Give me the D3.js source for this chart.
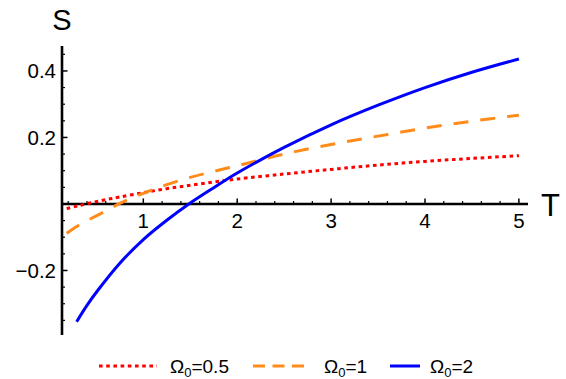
<!DOCTYPE html>
<html>
<head>
<meta charset="utf-8">
<script src="https://cdn.jsdelivr.net/npm/d3@7"></script>
<style>
  html, body { margin: 0; padding: 0; background: #fff; }
  svg { display: block; font-family: "Liberation Sans", Arial, sans-serif; }
</style>
</head>
<body>
<div id="chart"></div>
<script>
'use strict';

// ─── Data ──────────────────────────────────────────────────────────────────
const seriesNames = ['0.5', '1', '2'];
const seriesColors = ['#ff0000', '#ff8c1a', '#0000ff'];

const tRed    = [0.184, 0.3, 0.45, 0.6, 0.75, 1.0, 1.25, 1.5, 1.75, 2.0, 2.5, 3.0, 3.5, 4.0, 4.5, 5.0];
const sRed    = [-0.014, -0.006, 0.004, 0.013, 0.021, 0.034, 0.046, 0.056, 0.066, 0.075, 0.090, 0.104, 0.117, 0.128, 0.137, 0.145];

const tOrange = [0.184, 0.3, 0.45, 0.6, 0.75, 1.0, 1.25, 1.5, 1.75, 2.0, 2.5, 3.0, 3.5, 4.0, 4.5, 5.0];
const sOrange = [-0.088, -0.066, -0.043, -0.021, 0.002, 0.032, 0.058, 0.080, 0.098, 0.115, 0.150, 0.179, 0.204, 0.228, 0.249, 0.267];

const tBlue   = [0.29, 0.4, 0.52, 0.75, 1.0, 1.25, 1.5, 1.75, 2.0, 2.5, 3.0, 3.5, 4.0, 4.5, 5.0];
const sBlue   = [-0.354, -0.305, -0.258, -0.178, -0.107, -0.049, 0.003, 0.049, 0.093, 0.170, 0.238, 0.297, 0.350, 0.396, 0.436];

const xMajor = [1, 2, 3, 4, 5];
const yMajor = [-0.2, 0.2, 0.4];
const yMajorTicks = [-0.2, 0, 0.2, 0.4];

// ─── Layout ────────────────────────────────────────────────────────────────
const W = 566, H = 379;

const svg = d3.select('#chart').append('svg')
    .attr('width', W)
    .attr('height', H);

const x = d3.scaleLinear().domain([0.134, 5.097]).range([62, 528]);
const y = d3.scaleLinear().domain([-0.394, 0.475]).range([335, 46]);

// ─── Axes ──────────────────────────────────────────────────────────────────
const axis = svg.append('g').attr('stroke', '#000');

// minor ticks
const xMinor = d3.range(1, 26).map(function (i) { return i * 0.2; })
    .filter(function (v) { return Math.abs(v - Math.round(v)) > 1e-6; });
axis.selectAll('.xminor').data(xMinor).enter().append('line')
    .attr('x1', function (d) { return x(d); }).attr('x2', function (d) { return x(d); })
    .attr('y1', y(0)).attr('y2', y(0) - 3)
    .attr('stroke-width', 1.2);
axis.selectAll('.xmajor').data(xMajor).enter().append('line')
    .attr('x1', function (d) { return x(d); }).attr('x2', function (d) { return x(d); })
    .attr('y1', y(0)).attr('y2', y(0) - 5.5)
    .attr('stroke-width', 1.5);

const yMinor = d3.range(-7, 10).map(function (i) { return i * 0.05; })
    .filter(function (v) { return Math.abs(v * 5 - Math.round(v * 5)) > 1e-6; });
axis.selectAll('.yminor').data(yMinor).enter().append('line')
    .attr('x1', x(0.134)).attr('x2', x(0.134) + 3)
    .attr('y1', function (d) { return y(d); }).attr('y2', function (d) { return y(d); })
    .attr('stroke-width', 1.2);
axis.selectAll('.ymajor').data(yMajorTicks).enter().append('line')
    .attr('x1', x(0.134)).attr('x2', x(0.134) + 5.5)
    .attr('y1', function (d) { return y(d); }).attr('y2', function (d) { return y(d); })
    .attr('stroke-width', 1.5);

// axis lines
axis.append('line')
    .attr('x1', x(0.134)).attr('x2', x(5.097))
    .attr('y1', y(0)).attr('y2', y(0))
    .attr('stroke-width', 2.6);
axis.append('line')
    .attr('x1', x(0.134)).attr('x2', x(0.134))
    .attr('y1', y(-0.394)).attr('y2', y(0.475))
    .attr('stroke-width', 2.6);

// tick labels
svg.selectAll('.xlab').data(xMajor).enter().append('text')
    .attr('x', function (d) { return x(d); })
    .attr('y', y(0) + 24)
    .attr('text-anchor', 'middle')
    .attr('font-size', 20.5)
    .text(function (d) { return d; });

svg.selectAll('.ylab').data(yMajor).enter().append('text')
    .attr('x', x(0.134) - 6)
    .attr('y', function (d) { return y(d) + 7.5; })
    .attr('text-anchor', 'end')
    .attr('font-size', 20.5)
    .text(function (d) { return (d < 0 ? '\u2212' : '') + Math.abs(d).toFixed(1); });

// axis titles
svg.append('text')
    .attr('x', x(0.134)).attr('y', 30)
    .attr('text-anchor', 'middle')
    .attr('font-size', 29)
    .text('S');
svg.append('text')
    .attr('x', 541).attr('y', 216)
    .attr('font-size', 31)
    .text('T');

// ─── Curves ────────────────────────────────────────────────────────────────
const line = d3.line()
    .x(function (d) { return x(d[0]); })
    .y(function (d) { return y(d[1]); })
    .curve(d3.curveCatmullRom.alpha(0.5));

const dashes = ['3.6,3.6', '15,12', null];
const series = [d3.zip(tRed, sRed), d3.zip(tOrange, sOrange), d3.zip(tBlue, sBlue)];

series.forEach(function (pts, i) {
    svg.append('path')
        .datum(pts)
        .attr('d', line)
        .attr('fill', 'none')
        .attr('stroke', seriesColors[i])
        .attr('stroke-width', 3)
        .attr('stroke-dasharray', dashes[i]);
});

// ─── Legend ────────────────────────────────────────────────────────────────
const legendItems = [
    { x1: 99,  x2: 157, tx: 170 },
    { x1: 253, x2: 308, tx: 324 },
    { x1: 390, x2: 420, tx: 430 }
];
const legendDash = ['3.6,3.6', '12,7.5', null];
const legY = 366;

legendItems.forEach(function (it, i) {
    svg.append('line')
        .attr('x1', it.x1).attr('x2', it.x2)
        .attr('y1', legY).attr('y2', legY)
        .attr('stroke', seriesColors[i])
        .attr('stroke-width', 3)
        .attr('stroke-dasharray', legendDash[i]);
    const t = svg.append('text')
        .attr('x', it.tx).attr('y', legY + 6.5)
        .attr('font-size', 19);
    t.append('tspan').text('\u03A9');
    t.append('tspan').attr('font-size', 13).attr('dy', 4).text('0');
    t.append('tspan').attr('dy', -4).text('=' + seriesNames[i]);
});
</script>
</body>
</html>
